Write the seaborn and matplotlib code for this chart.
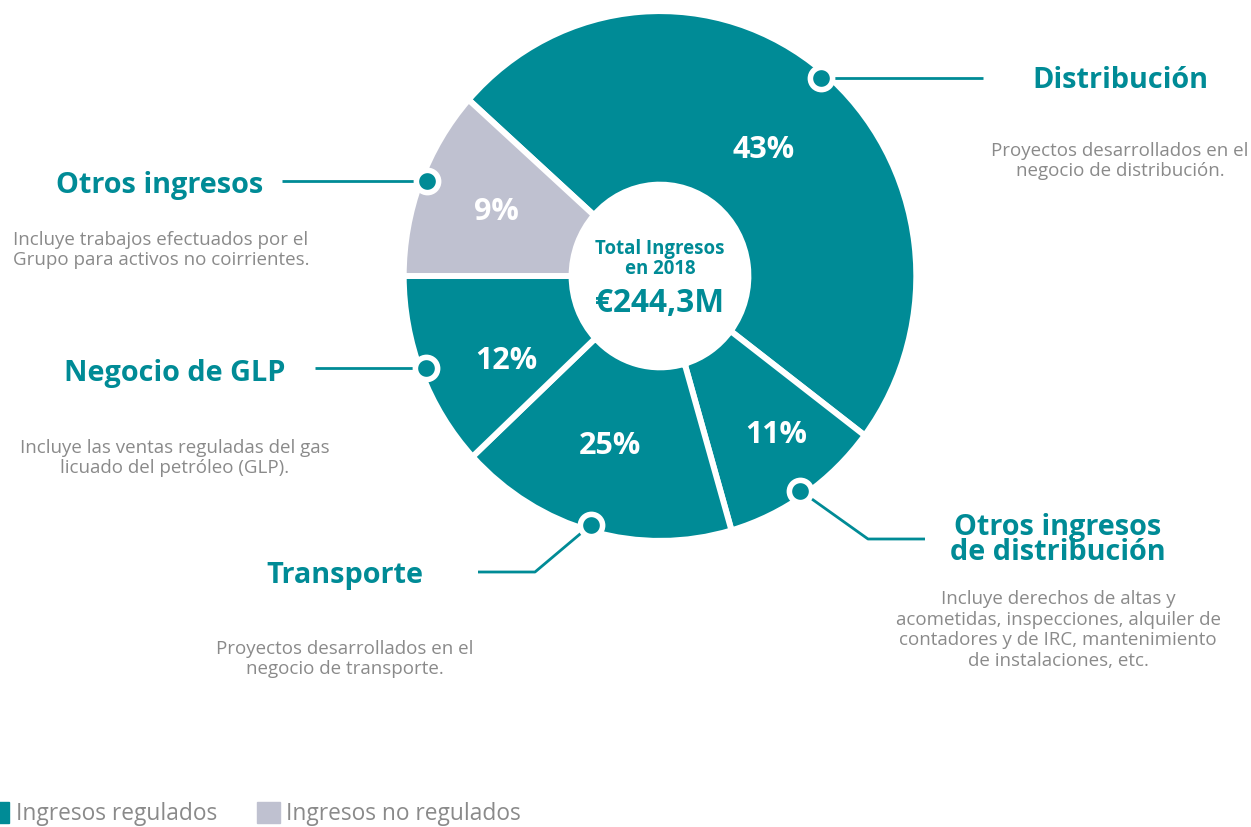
import matplotlib.pyplot as plt
import seaborn as sns
import numpy as np
from matplotlib.patches import Patch
from matplotlib.transforms import Affine2D

# data
categories = ["Distribución", "Otros ingresos\nde distribución", "Transporte",
              "Negocio de GLP", "Otros ingresos"]
pct_labels = ["43%", "11%", "25%", "12%", "9%"]
# size of each slice as it is drawn in the graphic (degrees of the ring)
arc_deg = [175.3, 36.8, 63.2, 43.0, 41.7]
regulated = [True, True, True, True, False]
descriptions = [
    "Proyectos desarrollados en el\nnegocio de distribución.",
    "Incluye derechos de altas y\nacometidas, inspecciones, alquiler de\n"
    "contadores y de IRC, mantenimiento\nde instalaciones, etc.",
    "Proyectos desarrollados en el\nnegocio de transporte.",
    "Incluye las ventas reguladas del gas\nlicuado del petróleo (GLP).",
    "Incluye trabajos efectuados por el\nGrupo para activos no coirrientes.",
]
center_title = "Total Ingresos\nen 2018"
center_value = "€244,3M"
legend_labels = ["Ingresos regulados", "Ingresos no regulados"]

sns.set_theme(style="white")
plt.rcParams["font.family"] = ["Open Sans", "DejaVu Sans"]

teal = "#008b96"
grey_slice = "#bfc1d0"
text_grey = "#8a8a8a"
W, H = 1251, 827

fig = plt.figure(figsize=(12.51, 8.27), dpi=100)
ax = fig.add_axes([0, 0, 1, 1])

cx, cy = 660, H - 276
r_out, r_in = 261, 90
sx, sy = 0.982, 1.015   # the ring in the original is a touch taller than wide
colors = [teal if r else grey_slice for r in regulated]
wedges, _ = ax.pie(arc_deg, colors=colors, startangle=138.3, counterclock=False,
                   center=(cx, cy), radius=r_out,
                   wedgeprops=dict(width=r_out - r_in, edgecolor="white", linewidth=4.3))
squash = Affine2D().translate(-cx, -cy).scale(sx, sy).translate(cx, cy)
for w in wedges:
    w.set_transform(squash + ax.transData)
ax.set_xlim(0, W)
ax.set_ylim(0, H)
ax.axis("off")

# percent labels and callout dots at the middle of each slice
label_r = [163, 197, 177, 176, 176]
label_shift = [0, 1.5, -1, 7.5, -0.5]
dots = []
for w, lab, lr, sh in zip(wedges, pct_labels, label_r, label_shift):
    mid = np.deg2rad((w.theta1 + w.theta2) / 2 + sh)
    ax.text(cx + lr * np.cos(mid), cy + lr * np.sin(mid), lab, color="white",
            fontsize=22, fontweight="bold", ha="center", va="center")
    mid = np.deg2rad((w.theta1 + w.theta2) / 2 - 0.6)
    dots.append((cx + 255 * sx * np.cos(mid), cy + 255 * sy * np.sin(mid)))

# leader line routes (pixel coords from top) and text anchors
routes = [
    [(983, None)],
    [(868, 539), (925, 539)],
    [(535, 572), (478, 572)],
    [(315, None)],
    [(282, None)],
]
title_pos = [(1120, 80), (1058, 540), (345, 575), (175, 373), (160, 186)]
desc_pos = [(1120, 161), (1058, 630), (345, 659), (175, 458), (161, 250)]

for (dx, dy), route, cat, desc, tp, dp in zip(dots, routes, categories, descriptions,
                                              title_pos, desc_pos):
    xs, ys = [dx], [dy]
    for px, py in route:
        xs.append(px)
        ys.append(dy if py is None else H - py)
    ax.plot(xs, ys, color=teal, lw=2, solid_capstyle="butt", zorder=3)
    ax.plot(dx, dy, "o", ms=16, mfc=teal, mec="white", mew=4, zorder=4)
    ax.text(tp[0], H - tp[1], cat, color=teal, fontsize=20.8, fontweight="bold",
            ha="center", va="center", linespacing=0.83)
    ax.text(dp[0], H - dp[1], desc, color=text_grey, fontsize=13.5,
            ha="center", va="center", multialignment="center", linespacing=1.17)

# centre of the ring
ax.text(cx, H - 259, center_title, color=teal, fontsize=13.4, fontweight="bold",
        ha="center", va="center", linespacing=1.05)
ax.text(cx, H - 304, center_value, color=teal, fontsize=22.8, fontweight="bold",
        ha="center", va="center")

handles = [Patch(color=teal), Patch(color=grey_slice)]
ax.legend(handles, legend_labels, loc="lower left", bbox_to_anchor=(-14 / W, 1 / H),
          ncol=2, frameon=False, fontsize=16.4, handlelength=1.0, handleheight=1.05,
          handletextpad=0.3, columnspacing=1.75, borderpad=0, borderaxespad=0,
          labelcolor=text_grey)

fig.savefig("out.png", dpi=100)
